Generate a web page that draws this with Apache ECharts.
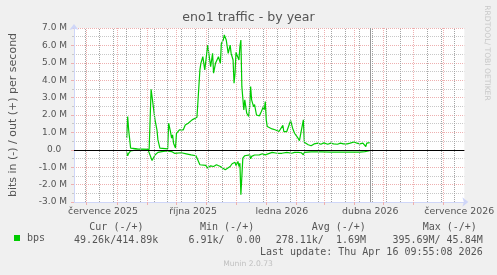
<!DOCTYPE html>
<html>
<head>
<meta charset="utf-8">
<script src="https://cdn.jsdelivr.net/npm/echarts@6/dist/echarts.min.js"></script>
<style>
html, body { margin: 0; padding: 0; background: #f0f0f0; }
#chart { width: 497px; height: 275px; }
</style>
</head>
<body>
<div id="chart"></div>
<script>
// days counted from 18 Jun 2025 (left edge of the 400 day window)
const monthStartDays = [13, 44, 75, 105, 136, 166, 197, 228, 256, 287, 317, 348, 378];
const biweekDays = [12, 26, 40, 54, 68, 82, 96, 110, 124, 138, 152, 166, 180, 194, 208, 222, 236, 250, 264, 278, 292, 306, 320, 334, 348, 362, 376, 390];
const monthLabelDays = [29.7, 122, 213, 303.5, 394.7];
const monthLabels = ['července 2025', 'října 2025', 'ledna 2026', 'dubna 2026', 'července 2026'];
const lastUpdateDay = 303.3;

// out (+), Mbit/s
const outDays = [54, 55, 56, 58, 65, 77, 79, 81, 83, 85, 86, 88, 90, 96, 97, 99, 100, 101, 102, 104, 105, 106, 108, 110, 112, 114, 115, 117, 119, 121, 123, 126, 128,
  129, 130, 132, 133, 134, 135, 137, 139, 140, 142, 143, 145, 146, 148, 150, 151, 153, 154, 156, 157, 158, 160, 161, 163, 164, 165, 166, 168, 169, 170, 171,
  172, 174, 175, 177, 179, 180, 181, 182, 184, 185, 187, 189, 190, 192, 194, 195, 196, 197, 198, 200, 203, 206, 210, 212, 214, 215, 218, 220, 222, 224, 226,
  227, 229, 231, 233, 235, 236, 238, 240, 243, 246, 248, 250, 253, 256, 260, 263, 266, 270, 273, 276, 280, 283, 287, 290, 293, 296, 299, 300, 303];
const outValues = [0.67, 1.91, 1.15, 0.10, 0.05, 0.02, 3.48, 3.40, 1.72, 1.15, 0.57, 0.10, 0.05, 0.05, 1.53, 1.00, 0.67, 0.86, 0.38, 0.10, 0.95, 0.90, 1.15, 1.24, 1.15, 1.43, 1.34, 1.53, 1.62, 1.72, 1.80, 1.87, 1.91,
  4.59, 4.97, 5.35, 5.25, 4.59, 5.07, 6.02, 6.12, 4.78, 5.54, 4.40, 4.97, 5.07, 5.35, 4.97, 6.12, 6.31, 6.60, 6.31, 5.93, 5.54, 6.02, 5.54, 5.16, 3.83, 4.40, 5.60, 5.70, 5.16, 5.93, 6.31,
  3.63, 2.29, 2.87, 2.10, 1.91, 2.48, 3.63, 2.87, 2.48, 2.60, 2.00, 1.91, 1.95, 2.20, 2.48, 2.30, 2.77, 1.72, 1.34, 1.24, 1.20, 1.15, 1.05, 1.10, 1.40, 1.05, 1.05, 1.15, 1.68, 1.24, 0.95,
  0.86, 0.72, 0.53, 0.57, 1.72, 0.43, 0.38, 0.29, 0.23, 0.34, 0.29, 0.38, 0.32, 0.40, 0.32, 0.38, 0.34, 0.32, 0.38, 0.34, 0.34, 0.38, 0.45, 0.38, 0.34, 0.38, 0.19, 0.38, 0.41];

// in (-), Mbit/s
const inDays = [54, 55, 56, 58, 63, 76, 78, 80, 81, 83, 86, 90, 95, 100, 103, 105, 110, 115, 120, 125, 127, 129, 131, 135, 137, 140, 143, 146, 150, 151, 155, 157, 160,
  162, 165, 166, 168, 169, 170, 171, 173, 175, 177, 180, 181, 182, 185, 187, 190, 193, 196, 198, 203, 208, 213, 218, 223, 226, 230, 233, 235, 236, 243, 253,
  263, 273, 283, 293, 298, 303];
const inValues = [-0.15, -0.34, -0.20, -0.06, -0.02, -0.02, -0.10, -0.61, -0.50, -0.30, -0.15, -0.10, -0.07, -0.10, -0.20, -0.12, -0.17, -0.23, -0.29, -0.34, -0.38, -0.86, -0.96, -0.90, -1.05, -0.92, -0.96, -0.86, -0.96, -1.05, -1.15, -1.05, -0.96,
  -0.80, -0.72, -0.90, -0.67, -0.96, -0.77, -2.58, -0.48, -0.34, -0.40, -0.29, -0.52, -0.38, -0.30, -0.34, -0.29, -0.23, -0.29, -0.20, -0.15, -0.20, -0.20, -0.15, -0.20, -0.15, -0.15, -0.17, -0.29, -0.15, -0.12, -0.12,
  -0.13, -0.13, -0.13, -0.13, -0.10, -0.05];

const headers = ['Cur (-/+)', 'Min (-/+)', 'Avg (-/+)', 'Max (-/+)'];
const summaries = ['49.26k/414.89k', '6.91k/  0.00', '278.11k/  1.69M', '395.69M/ 45.84M'];
const lastUpdate = 'Last update: Thu Apr 16 09:55:08 2026';

const fontColor = '#555';
const gridRed = '#eeb0b0';
const gridGray = '#c8c8c8';
const minorRuleGray = '#a4a4a4';
const axisBlue = '#cfd6f8';
const green = '#00cc00';
const mono = '10px "DejaVu Sans Mono"';

const chart = echarts.init(document.getElementById('chart'), null, { renderer: 'canvas' });

function pairs(xs, ys) {
  return xs.map((d, i) => [d, ys[i]]);
}

// column positions of the summary table
const headerX = [89.3, 200, 311.7, 422.7];
const summaryRight = [158.3, 260.7, 366, 482.7];
const graphics = [];
headers.forEach((h, i) => {
  graphics.push({ type: 'text', x: headerX[i], y: 227.5, style: { text: h, font: mono, fill: fontColor, verticalAlign: 'middle' } });
});
summaries.forEach((s, i) => {
  graphics.push({ type: 'text', x: summaryRight[i], y: 240, style: { text: s, font: mono, fill: fontColor, align: 'right', verticalAlign: 'middle' } });
});
graphics.push({ type: 'text', x: 482.7, y: 252, style: { text: lastUpdate, font: mono, fill: fontColor, align: 'right', verticalAlign: 'middle' } });
graphics.push({ type: 'text', x: 248, y: 264, style: { text: 'Munin 2.0.73', font: '7.6px "DejaVu Sans"', fill: '#c0c0c0', align: 'center', verticalAlign: 'middle' } });
graphics.push({ type: 'text', x: 487, y: 53, rotation: -Math.PI / 2, style: { text: 'RRDTOOL/ TOBI OETIKER', font: '7.6px "DejaVu Sans"', fill: '#c8c8c8', align: 'center', verticalAlign: 'middle' } });

// two-weekly gray verticals plus the "last update" rule
const verticalRules = biweekDays
  .filter(d => monthStartDays.indexOf(d) < 0)
  .map(d => ({ xAxis: d, lineStyle: { color: minorRuleGray, type: 'dotted', width: 1 } }));
verticalRules.push({ xAxis: lastUpdateDay, lineStyle: { color: '#999999', type: 'solid', width: 1 } });

const option = {
  backgroundColor: '#f0f0f0',
  animation: false,
  title: {
    text: 'eno1 traffic - by year',
    left: 'center',
    top: 11,
    padding: 0,
    textStyle: { fontFamily: 'DejaVu Sans', fontSize: 12.6, fontWeight: 'normal', color: fontColor }
  },
  legend: {
    data: [{ name: 'bps', icon: 'rect' }],
    left: 14,
    top: 233,
    padding: 0,
    itemWidth: 6,
    itemHeight: 6,
    textStyle: { fontFamily: 'DejaVu Sans Mono', fontSize: 10, color: fontColor, padding: [0, 0, 0, 2] }
  },
  grid: {
    left: 67, top: 28, width: 400, height: 174,
    show: true, backgroundColor: '#ffffff', borderWidth: 0
  },
  xAxis: {
    type: 'value', min: 0, max: 400,
    axisLine: {
      onZero: false,
      lineStyle: { color: axisBlue, width: 1 },
      symbol: ['none', 'arrow'], symbolSize: [7, 6], symbolOffset: [0, 4]
    },
    axisTick: { show: true, length: 3, customValues: monthStartDays, lineStyle: { color: gridRed } },
    axisLabel: {
      customValues: monthLabelDays,
      margin: 5,
      fontFamily: 'DejaVu Sans', fontSize: 9.4, color: fontColor,
      formatter: function (v) {
        const i = monthLabelDays.findIndex(d => Math.abs(d - v) < 0.01);
        return i >= 0 ? monthLabels[i] : '';
      }
    },
    splitLine: { show: true, lineStyle: { color: gridRed, type: 'dotted', width: 1 } }
  },
  yAxis: {
    type: 'value', min: -3, max: 7, interval: 1,
    name: 'bits in (-) / out (+) per second',
    nameLocation: 'middle', nameRotate: 90, nameGap: 55,
    nameTextStyle: { fontFamily: 'DejaVu Sans', fontSize: 11, color: fontColor },
    axisLine: {
      show: true,
      lineStyle: { color: axisBlue, width: 1 },
      symbol: ['none', 'arrow'], symbolSize: [7, 6], symbolOffset: [0, 4]
    },
    axisTick: { show: true, length: 3, lineStyle: { color: gridRed } },
    minorTick: { show: true, splitNumber: 2, length: 2, lineStyle: { color: gridGray } },
    axisLabel: {
      margin: 7,
      fontFamily: 'DejaVu Sans', fontSize: 9, color: fontColor,
      formatter: function (v) {
        return v === 0 ? '0.0  ' : v.toFixed(1) + ' M';
      }
    },
    splitLine: { show: true, lineStyle: { color: gridRed, type: 'dotted', width: 1 } },
    minorSplitLine: { show: true, lineStyle: { color: gridGray, type: 'dotted', width: 1 } }
  },
  series: [
    {
      name: 'bps', type: 'line',
      data: pairs(inDays, inValues),
      showSymbol: false, color: green,
      lineStyle: { color: green, width: 1.2 },
      markLine: {
        silent: true, symbol: ['none', 'none'], label: { show: false },
        data: verticalRules
      }
    },
    {
      name: 'bps', type: 'line',
      data: pairs(outDays, outValues),
      showSymbol: false, color: green,
      lineStyle: { color: green, width: 1.2 },
      markLine: {
        silent: true, symbol: ['none', 'none'], label: { show: false },
        lineStyle: { color: '#000000', type: 'solid', width: 1 },
        data: [{ yAxis: 0 }]
      }
    }
  ],
  graphic: graphics
};

chart.setOption(option);
</script>
</body>
</html>
